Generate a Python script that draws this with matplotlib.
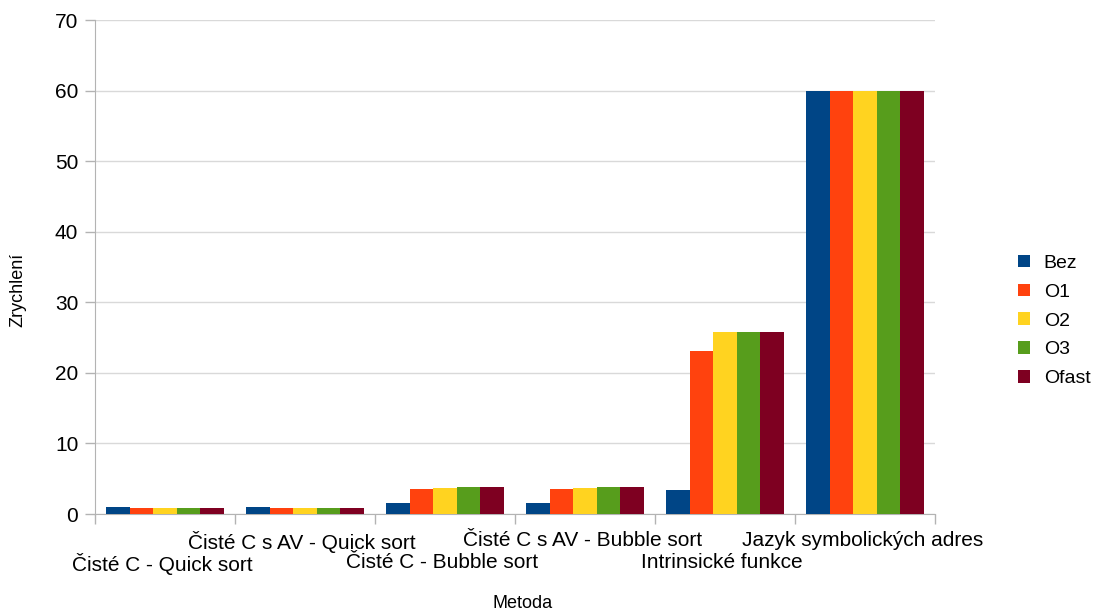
import matplotlib
matplotlib.use('Agg')
import matplotlib.pyplot as plt
import numpy as np

plt.rcParams['font.family'] = ['Liberation Sans', 'DejaVu Sans']

# metody a zrychlení pro jednotlivé úrovně optimalizace
metody = ['Čisté C - Quick sort', 'Čisté C s AV - Quick sort', 'Čisté C - Bubble sort',
          'Čisté C s AV - Bubble sort', 'Intrinsické funkce', 'Jazyk symbolických adres']
bez = [1.03, 1.03, 1.5, 1.5, 3.4, 60]
o1 = [0.85, 0.85, 3.5, 3.5, 23.1, 60]
o2 = [0.8, 0.8, 3.7, 3.75, 25.85, 60]
o3 = [0.8, 0.8, 3.87, 3.87, 25.85, 60]
ofast = [0.8, 0.8, 3.87, 3.87, 25.85, 60]

serie = [('Bez', bez, '#004586'), ('O1', o1, '#ff420e'), ('O2', o2, '#ffd320'),
         ('O3', o3, '#579d1c'), ('Ofast', ofast, '#7e0021')]

fig = plt.figure(figsize=(10.96, 6.14), dpi=100)
ax = fig.add_axes([95 / 1096, 1 - 514 / 614, 840 / 1096, 494 / 614])

x = np.arange(len(metody))
sirka = 0.168
for i, (nazev, hodnoty, barva) in enumerate(serie):
    ax.bar(x + (i - 2) * sirka, hodnoty, sirka, color=barva, label=nazev, zorder=3)

ax.set_xlim(-0.5, len(metody) - 0.5)
ax.set_ylim(0, 70)
ax.set_yticks(range(0, 71, 10))
ax.grid(axis='y', color='#d9d9d9', linewidth=1, zorder=0)

# hranice kategorií jako hlavní značky, popisky střídavě ve dvou řádcích
ax.set_xticks(np.arange(len(metody) + 1) - 0.5)
ax.set_xticklabels([])
for i, m in enumerate(metody):
    posun = -0.079 if i % 2 == 0 else -0.034
    ax.text(i - 0.02, posun, m, transform=ax.get_xaxis_transform(), ha='center', va='top', fontsize=15)

ax.tick_params(axis='both', color='#b3b3b3', length=7, width=1, labelsize=15)
ax.tick_params(axis='y', pad=5)
for s in ['top', 'right']:
    ax.spines[s].set_visible(False)
ax.spines['left'].set_color('#b3b3b3')
ax.spines['bottom'].set_color('#b3b3b3')

fig.text(18 / 1096, 1 - 290 / 614, 'Zrychlení', rotation=90, ha='center', va='center', fontsize=13)
fig.text(523 / 1096, 1 - 604 / 614, 'Metoda', ha='center', va='center', fontsize=13)

leg = ax.legend(loc='center left', bbox_to_anchor=(1018 / 1096, 1 - 321 / 614),
                bbox_transform=fig.transFigure, frameon=False, fontsize=14,
                handlelength=0.62, handleheight=0.62, handletextpad=0.7, labelspacing=0.6,
                borderaxespad=0, borderpad=0)

fig.savefig('out.png', dpi=100)
